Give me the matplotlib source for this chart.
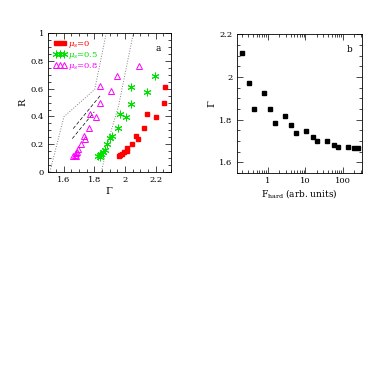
import matplotlib
matplotlib.use("Agg")
import matplotlib.pyplot as plt
from matplotlib.ticker import MultipleLocator

plt.rcParams['font.family'] = ['DejaVu Serif']
plt.rcParams['mathtext.fontset'] = 'dejavuserif'

# panel a: R vs Gamma for three mu_s values
gam_red = [2.258, 2.254, 2.200, 2.146, 2.122, 2.069, 2.084, 2.043, 2.015, 2.011, 1.993, 1.981, 1.968, 1.959]
r_red = [0.614, 0.494, 0.393, 0.417, 0.320, 0.258, 0.236, 0.198, 0.169, 0.152, 0.140, 0.128, 0.120, 0.116]

gam_green = [2.198, 2.141, 2.041, 2.041, 2.004, 1.965, 1.953, 1.914, 1.905, 1.884, 1.867, 1.856, 1.845, 1.835, 1.826, 1.835]
r_green = [0.692, 0.578, 0.614, 0.489, 0.398, 0.417, 0.320, 0.258, 0.241, 0.198, 0.161, 0.145, 0.128, 0.120, 0.113, 0.108]

gam_mag = [2.092, 1.951, 1.912, 1.837, 1.837, 1.775, 1.809, 1.764, 1.732, 1.740, 1.712, 1.697, 1.689, 1.680, 1.672, 1.663, 1.678]
r_mag = [0.764, 0.692, 0.583, 0.619, 0.494, 0.417, 0.393, 0.320, 0.258, 0.236, 0.198, 0.164, 0.145, 0.133, 0.123, 0.116, 0.118]

# dotted envelope lines
dot1_x = [1.511, 1.603, 1.803, 1.878]
dot1_y = [0.0, 0.398, 0.595, 1.0]
dot2_x = [1.846, 1.90, 1.957, 2.054]
dot2_y = [0.0, 0.26, 0.47, 1.0]

# dashed lines
dash1_x = [1.663, 1.846]
dash1_y = [0.312, 0.560]
dash2_x = [1.657, 1.800]
dash2_y = [0.240, 0.433]

# panel b: Gamma vs hard flux
f_hard = [0.21, 0.31, 0.42, 0.78, 1.13, 1.58, 2.94, 4.19, 5.71, 10.4, 15.8, 20.7, 37.7, 56, 71.8, 131, 190, 244]
gam_b = [2.113, 1.971, 1.848, 1.927, 1.848, 1.786, 1.818, 1.774, 1.737, 1.747, 1.719, 1.699, 1.699, 1.683, 1.674, 1.674, 1.669, 1.668]

fig = plt.figure(figsize=(3.82, 3.82), dpi=100)
ax1 = fig.add_axes([0.126, 0.55, 0.322, 0.363])
ax2 = fig.add_axes([0.62, 0.547, 0.328, 0.363])

ax1.plot(dot1_x, dot1_y, color='gray', ls=':', lw=0.7)
ax1.plot(dot2_x, dot2_y, color='gray', ls=':', lw=0.7)
ax1.plot(dash1_x, dash1_y, color='black', ls=(0, (5, 3)), lw=0.5)
ax1.plot(dash2_x, dash2_y, color='black', ls=(0, (5, 3)), lw=0.5)

ax1.plot(gam_red, r_red, 's', color='red', ms=3.5, ls='none', label=r'$\mu_s$=0')
ax1.plot(gam_green, r_green, ls='none', marker=(6, 2, 0), color='#00e000', ms=5.5, mew=0.7, label=r'$\mu_s$=0.5')
ax1.plot(gam_mag, r_mag, '^', ls='none', mfc='none', mec='magenta', ms=4.5, mew=0.7, label=r'$\mu_s$=0.8')

leg = ax1.legend(loc='upper left', numpoints=3, frameon=False, fontsize=6,
                 handlelength=1.5, handletextpad=0.15, labelspacing=0.0,
                 borderaxespad=0.3, markerscale=1.0)
for t, c in zip(leg.get_texts(), ['red', '#00e000', 'magenta']):
    t.set_color(c)

ax1.set_xlim(1.5, 2.3)
ax1.set_ylim(0, 1)
ax1.xaxis.set_minor_locator(MultipleLocator(0.05))
ax1.yaxis.set_minor_locator(MultipleLocator(0.05))
ax1.set_xticks([1.6, 1.8, 2.0, 2.2])
ax1.set_xticklabels(['1.6', '1.8', '2', '2.2'])
ax1.set_yticks([0, 0.2, 0.4, 0.6, 0.8, 1.0])
ax1.set_yticklabels(['0', '0.2', '0.4', '0.6', '0.8', '1'])
ax1.set_xlabel(r'$\Gamma$', fontsize=7, labelpad=1)
ax1.set_ylabel('R', fontsize=7, labelpad=2)
ax1.text(0.92, 0.92, 'a', transform=ax1.transAxes, fontsize=6.5, ha='right', va='top')

ax2.plot(f_hard, gam_b, 's', color='black', ms=3.5)
ax2.set_xscale('log')
ax2.set_xlim(0.15, 320)
ax2.set_ylim(1.55, 2.2)
ax2.yaxis.set_minor_locator(MultipleLocator(0.05))
ax2.set_xticks([1, 10, 100])
ax2.set_xticklabels(['1', '10', '100'])
ax2.set_yticks([1.6, 1.8, 2.0, 2.2])
ax2.set_yticklabels(['1.6', '1.8', '2', '2.2'])
ax2.set_xlabel(r'F$_{\rm hard}$ (arb. units)', fontsize=6.5, labelpad=1)
ax2.set_ylabel(r'$\Gamma$', fontsize=7, labelpad=2)
ax2.text(0.92, 0.92, 'b', transform=ax2.transAxes, fontsize=6.5, ha='right', va='top')

for ax in (ax1, ax2):
    ax.tick_params(which='both', direction='in', top=True, right=True, labelsize=6, pad=3)
    ax.tick_params(which='major', length=4, width=0.5)
    ax.tick_params(which='minor', length=2, width=0.5)
    for s in ax.spines.values():
        s.set_linewidth(0.6)

fig.savefig('out.png', dpi=100)
